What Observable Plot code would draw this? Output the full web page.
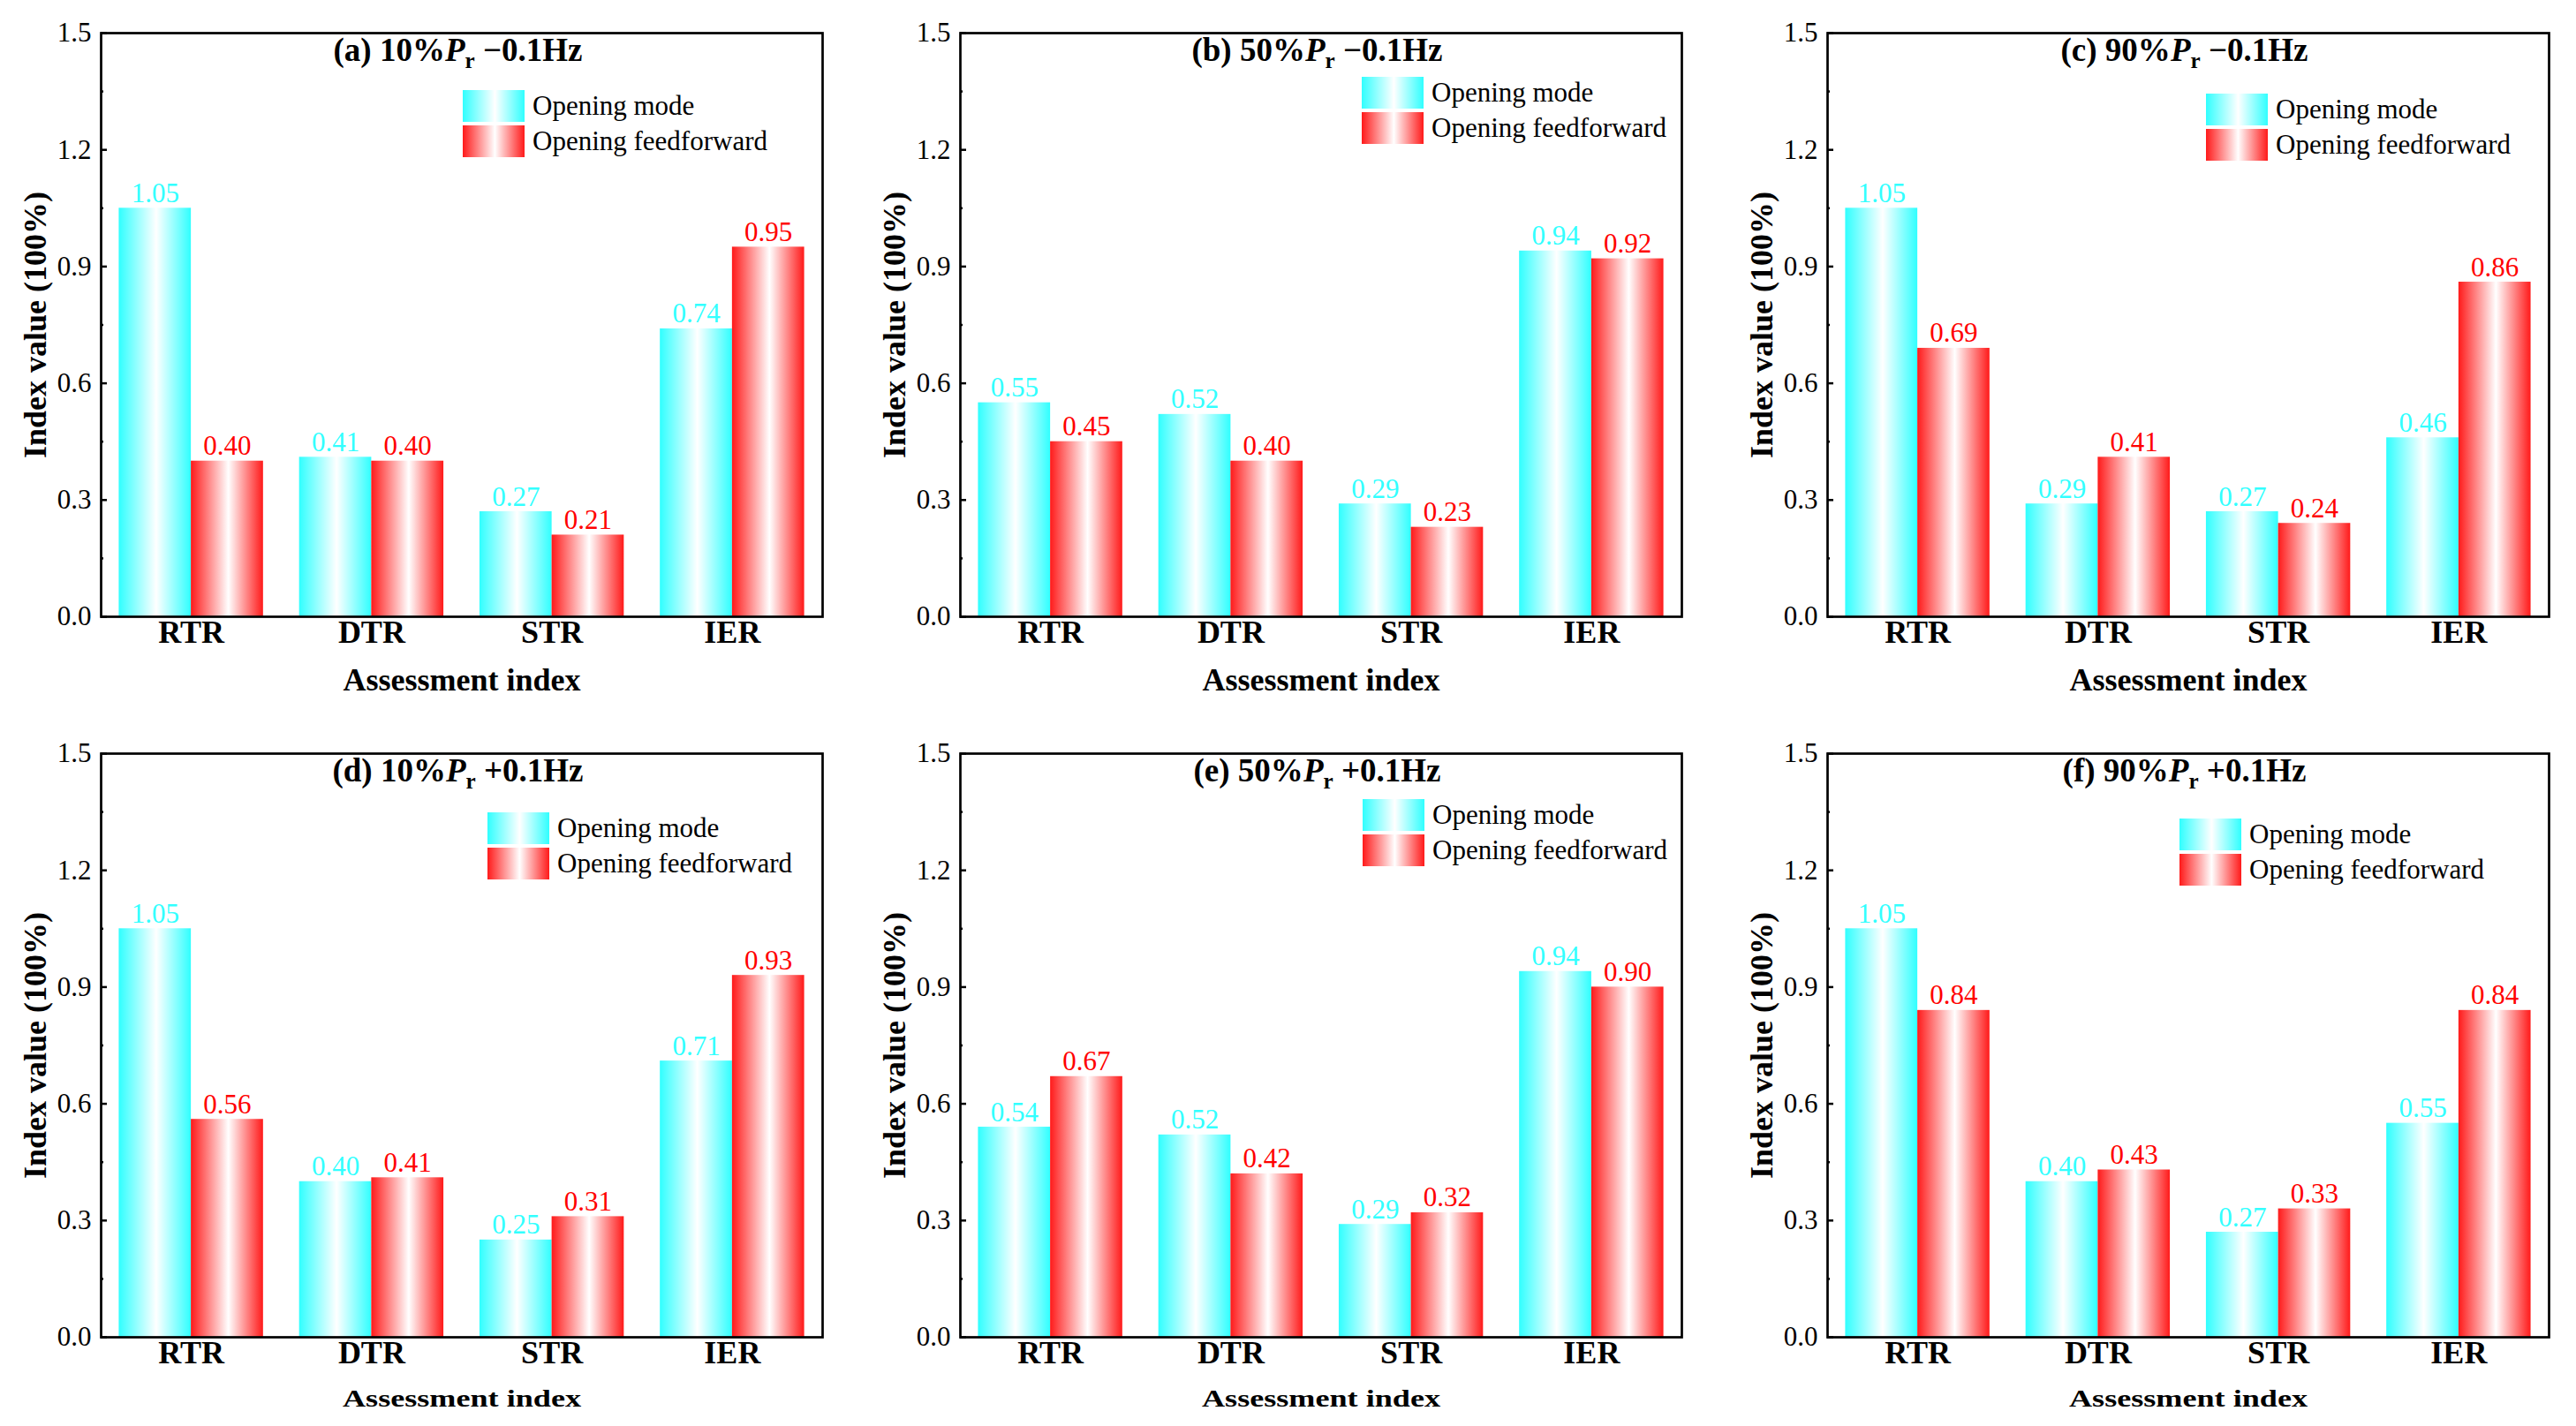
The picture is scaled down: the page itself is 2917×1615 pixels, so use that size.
<!DOCTYPE html>
<html>
<head>
<meta charset="utf-8">
<script src="https://cdn.jsdelivr.net/npm/d3@7"></script>
<script src="https://cdn.jsdelivr.net/npm/@observablehq/plot@0.6"></script>
<style>
html, body { margin: 0; padding: 0; background: #fff; }
#root { position: relative; width: 2917px; height: 1615px; overflow: hidden; font-family: "Liberation Serif", "Times New Roman", serif; color: #000; }
.panel { position: absolute; }
.title { position: absolute; font-weight: bold; font-size: 37px; line-height: 37px; white-space: nowrap; transform: translateX(-50%); }
.title .sub { font-size: 0.68em; position: relative; top: 0.32em; }
.legend { position: absolute; font-size: 31px; }
.legend .row { display: flex; align-items: center; height: 36px; margin-bottom: 4px; white-space: nowrap; }
.legend .sw { width: 70px; height: 36px; margin-right: 9px; flex: none; }
</style>
</head>
<body>
<div id="root"></div>
<script>
// ---------- data ----------
const categories = ["RTR", "DTR", "STR", "IER"];
const seriesNames = ["Opening mode", "Opening feedforward"];
const panelLetters = ["(a)", "(b)", "(c)", "(d)", "(e)", "(f)"];
const panelPower = ["10%", "50%", "90%", "10%", "50%", "90%"];
const panelFreq = ["\u22120.1Hz", "\u22120.1Hz", "\u22120.1Hz", "+0.1Hz", "+0.1Hz", "+0.1Hz"];

const modeA = [1.05, 0.41, 0.27, 0.74];
const feedA = [0.40, 0.40, 0.21, 0.95];
const modeB = [0.55, 0.52, 0.29, 0.94];
const feedB = [0.45, 0.40, 0.23, 0.92];
const modeC = [1.05, 0.29, 0.27, 0.46];
const feedC = [0.69, 0.41, 0.24, 0.86];
const modeD = [1.05, 0.40, 0.25, 0.71];
const feedD = [0.56, 0.41, 0.31, 0.93];
const modeE = [0.54, 0.52, 0.29, 0.94];
const feedE = [0.67, 0.42, 0.32, 0.90];
const modeF = [1.05, 0.40, 0.27, 0.55];
const feedF = [0.84, 0.43, 0.33, 0.84];

const yTicks = [0, 0.3, 0.6, 0.9, 1.2, 1.5];
const yMinorTicks = [0.15, 0.45, 0.75, 1.05, 1.35];
const xLabel = "Assessment index";
const yLabel = "Index value (100%)";

// ---------- layout ----------
const colLeft = [114, 1087, 2069];
const rowTop = [36.7, 852.5];
const frameW = 817, frameH = 661;
const mL = 110, mR = 16, mT = 30, mB = 100;
const legendOffsets = [[410, 65], [455, 50], [429, 69], [438, 67], [456, 52], [399, 74]];
const xLabelOffsets = [83, 78];
const xLabelSizes = [36, 27];
const serif = "'Liberation Serif', 'Times New Roman', serif";

const cyan = "#30ffff";
const red = "#ff1a1a";
const cyanText = "#33ffff";
const redText = "#ff0000";

const modes = [modeA, modeB, modeC, modeD, modeE, modeF];
const feeds = [feedA, feedB, feedC, feedD, feedE, feedF];

const root = document.getElementById("root");
const ns = "http://www.w3.org/2000/svg";

function addGradient(svg, id, color) {
  let defs = svg.querySelector("defs");
  if (!defs) { defs = document.createElementNS(ns, "defs"); svg.insertBefore(defs, svg.firstChild); }
  const g = document.createElementNS(ns, "linearGradient");
  g.setAttribute("id", id);
  g.setAttribute("x1", "0"); g.setAttribute("x2", "1");
  g.setAttribute("y1", "0"); g.setAttribute("y2", "0");
  [[0, color], [0.52, "#ffffff"], [1, color]].forEach(([o, c]) => {
    const s = document.createElementNS(ns, "stop");
    s.setAttribute("offset", o);
    s.setAttribute("stop-color", c);
    g.appendChild(s);
  });
  defs.appendChild(g);
}

for (let k = 0; k < 6; k++) {
  const col = k % 3, row = Math.floor(k / 3);
  const fl = colLeft[col], ft = rowTop[row];
  const rows = categories.map((c, i) => ({c, i, mode: modes[k][i], ff: feeds[k][i]}));
  const svg = Plot.plot({
    width: mL + frameW + mR,
    height: mT + frameH + mB,
    marginLeft: mL, marginRight: mR, marginTop: mT, marginBottom: mB,
    style: {fontFamily: serif, fontSize: "31px", color: "black", background: "transparent", overflow: "visible"},
    x: {domain: [-0.5, 3.5], label: null},
    y: {domain: [0, 1.5], label: null},
    marks: [
      Plot.rect(rows, {x1: d => d.i - 0.4, x2: d => d.i, y1: 0, y2: "mode", fill: `url(#gc${k})`}),
      Plot.rect(rows, {x1: d => d.i, x2: d => d.i + 0.4, y1: 0, y2: "ff", fill: `url(#gr${k})`}),
      Plot.text(rows, {x: d => d.i - 0.2, y: "mode", text: d => d.mode.toFixed(2), fill: cyanText, lineAnchor: "bottom", dy: -7, fontSize: 31, fontFamily: serif}),
      Plot.text(rows, {x: d => d.i + 0.2, y: "ff", text: d => d.ff.toFixed(2), fill: redText, lineAnchor: "bottom", dy: -7, fontSize: 31, fontFamily: serif}),
      Plot.axisY({ticks: yTicks, tickSize: 0, tickPadding: 11, tickFormat: d3.format(".1f"), fontSize: 31, fontFamily: serif, label: null}),
      Plot.axisY({ticks: yTicks, tickSize: 7, dx: 7, tickFormat: () => "", strokeWidth: 2.5, label: null}),
      Plot.axisY({ticks: yMinorTicks, tickSize: 3, dx: 3, tickFormat: () => "", strokeWidth: 2.5, label: null}),
      Plot.axisX({ticks: [0, 1, 2, 3], tickSize: 0, tickPadding: 4, tickFormat: i => categories[i], fontSize: 36, fontWeight: "bold", fontFamily: serif, label: null}),
      Plot.text([xLabel], {text: d => d, frameAnchor: "bottom", textAnchor: "middle", dy: xLabelOffsets[row], lineAnchor: "bottom", fontSize: xLabelSizes[row], fontWeight: "bold", fontFamily: serif, ariaLabel: "xlabel"}),
      Plot.text([yLabel], {text: d => d, frameAnchor: "left", textAnchor: "middle", dx: -63, rotate: -90, lineAnchor: "bottom", fontSize: 36, fontWeight: "bold", fontFamily: serif}),
      Plot.frame({stroke: "black", strokeWidth: 2.7})
    ]
  });
  addGradient(svg, `gc${k}`, cyan);
  addGradient(svg, `gr${k}`, red);
  if (row === 1) {
    // bottom-row axis title is horizontally stretched in the reference
    let xt = svg.querySelector('text[aria-label="xlabel"]') || svg.querySelector('[aria-label="xlabel"] text');
    if (!xt) xt = Array.from(svg.querySelectorAll("text")).find(el => el.textContent === xLabel);
    if (xt) { xt.setAttribute("textLength", "270"); xt.setAttribute("lengthAdjust", "spacingAndGlyphs"); }
  }
  const wrap = document.createElement("div");
  wrap.className = "panel";
  wrap.style.left = (fl - mL) + "px";
  wrap.style.top = (ft - mT) + "px";
  wrap.appendChild(svg);
  root.appendChild(wrap);

  // title
  const t = document.createElement("div");
  t.className = "title";
  t.style.left = (fl + frameW / 2 - 4) + "px";
  t.style.top = (ft + 1) + "px";
  t.innerHTML = `${panelLetters[k]} ${panelPower[k]}<i>P</i><span class="sub">r</span> ${panelFreq[k]}`;
  root.appendChild(t);

  // legend
  const lg = document.createElement("div");
  lg.className = "legend";
  lg.style.left = (fl + legendOffsets[k][0]) + "px";
  lg.style.top = (ft + legendOffsets[k][1]) + "px";
  [cyan, red].forEach((c, j) => {
    const r = document.createElement("div");
    r.className = "row";
    const sw = document.createElement("div");
    sw.className = "sw";
    sw.style.background = `linear-gradient(to right, ${c} 0%, #ffffff 52%, ${c} 100%)`;
    const tx = document.createElement("span");
    tx.textContent = seriesNames[j];
    r.appendChild(sw); r.appendChild(tx);
    lg.appendChild(r);
  });
  root.appendChild(lg);
}
</script>
</body>
</html>
